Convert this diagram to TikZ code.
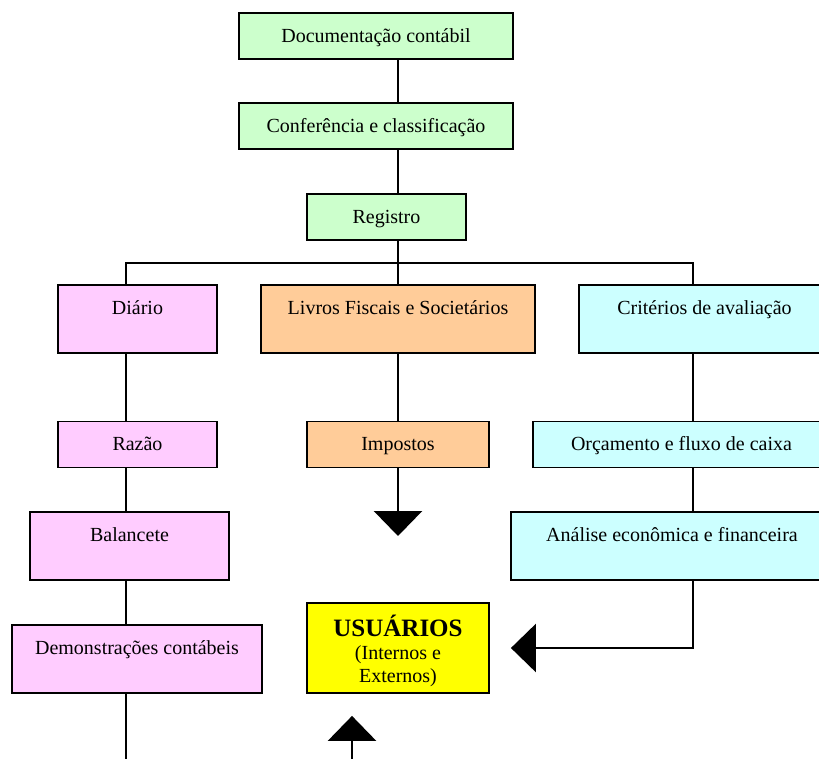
\documentclass[tikz,border=0pt]{standalone}
\usepackage{fontspec}
\setmainfont{Liberation Serif}
\usetikzlibrary{arrows.meta, positioning, calc}
\definecolor{verde}{HTML}{CCFFCC}
\definecolor{rosa}{HTML}{FFCCFF}
\definecolor{laranja}{HTML}{FFCC99}
\definecolor{ciano}{HTML}{CCFFFF}
\definecolor{amarelo}{HTML}{FFFF00}

\begin{document}
\begin{tikzpicture}[
        x=1pt, y=1pt,
        font=\fontsize{20}{23}\selectfont,
        box/.style={rectangle, draw=black, line width=1.8pt, inner xsep=0pt, inner ysep=15pt, text height=14pt, text depth=2pt, align=center},
        tallbox/.style={box, text depth=24pt},
        line/.style={draw=black, line width=2.8pt},
        arrow/.style={line, -{Triangle[length=25pt, width=48pt]}}
    ]
        \useasboundingbox (0,0) rectangle (819,-758);
        \clip (0,0) rectangle (819,-758);

        % fluxo principal
        \node[box, fill=verde, minimum width=274pt] (doc) at (376,-36) {Documentação contábil};
        \node[box, fill=verde, minimum width=274pt] (conf) at (376,-126) {Conferência e classificação};
        \node[box, fill=verde, minimum width=159pt] (reg) at (386.5,-217) {Registro};

        % colunas
        \node[tallbox, fill=rosa, minimum width=159pt] (diario) at (137.5,-319) {Diário};
        \node[box, fill=rosa, minimum width=159pt] (razao) at (137.5,-444.5) {Razão};
        \node[tallbox, fill=rosa, minimum width=199pt] (balancete) at (129.5,-546) {Balancete};
        \node[tallbox, fill=rosa, minimum width=250pt] (demo) at (137,-659) {Demonstrações contábeis};

        \node[tallbox, fill=laranja, minimum width=274pt] (livros) at (398,-319) {Livros Fiscais e Societários};
        \node[box, fill=laranja, minimum width=182pt] (impostos) at (398,-444.5) {Impostos};

        \node[tallbox, fill=ciano, minimum width=251pt] (crit) at (704.5,-319) {Critérios de avaliação};
        \node[box, fill=ciano, minimum width=297pt] (orc) at (681.5,-444.5) {Orçamento e fluxo de caixa};
        \node[tallbox, fill=ciano, minimum width=322pt] (analise) at (672,-546) {Análise econômica e financeira};

        \node[rectangle, draw=black, line width=1.8pt, fill=amarelo, minimum width=182pt, minimum height=90pt, inner sep=0pt, align=center] (usu) at (398,-648)
            {{\fontsize{25}{25}\selectfont\bfseries\rule{0pt}{28pt}USUÁRIOS}\\(Internos e\\Externos)};

        % pontos de apoio
        \coordinate (barA) at (126,-263);
        \coordinate (barB) at (398,-263);
        \coordinate (barC) at (693,-263);
        \coordinate (fimA) at (126,-762);
        \coordinate (fimB) at (398,-536);
        \coordinate (iniB) at (352,-762);

        \draw[line] (doc.south -| barB) -- (conf.north -| barB);
        \draw[line] (conf.south -| barB) -- (reg.north -| barB);
        \draw[line] (reg.south -| barB) -- (livros.north -| barB);
        \draw[line] (diario.north -| barA) -- (barA) -- (barC) -- (crit.north -| barC);

        \draw[line] (diario.south -| barA) -- (razao.north -| barA);
        \draw[line] (razao.south -| barA) -- (balancete.north -| barA);
        \draw[line] (balancete.south -| barA) -- (demo.north -| barA);
        \draw[line] (demo.south -| barA) -- (fimA);

        \draw[line] (livros.south -| barB) -- (impostos.north -| barB);
        \draw[arrow] (impostos.south -| barB) -- (fimB);
        \draw[arrow, shorten >=22pt] (iniB) -- (usu.south -| iniB);

        \draw[line] (crit.south -| barC) -- (orc.north -| barC);
        \draw[line] (orc.south -| barC) -- (analise.north -| barC);
        \draw[arrow, shorten >=21pt] (analise.south -| barC) |- (usu.east);
    \end{tikzpicture}
\end{document}
